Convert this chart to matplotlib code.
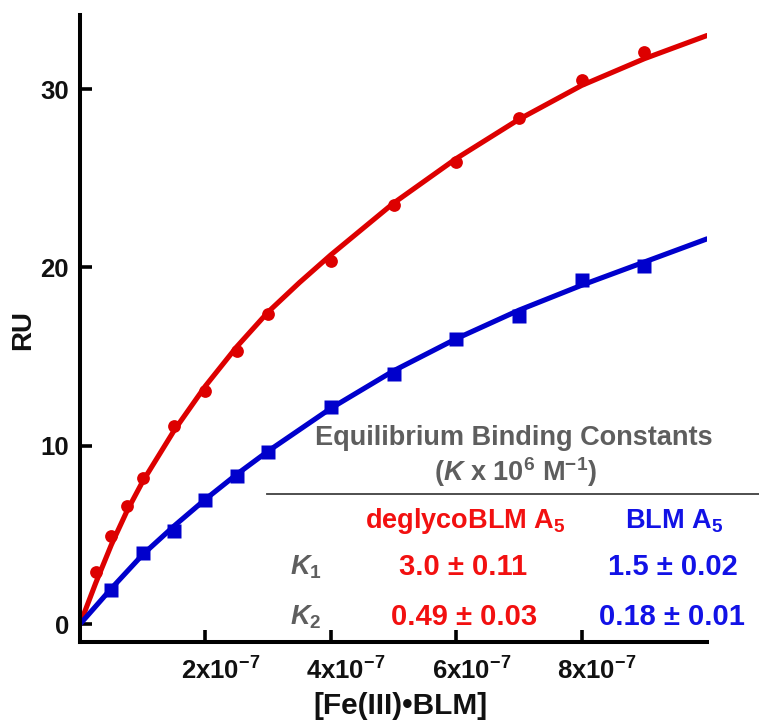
import matplotlib
matplotlib.use("Agg")
import matplotlib.pyplot as plt
import matplotlib.transforms as mtransforms
import numpy as np

plt.rcParams['font.family'] = ['Liberation Sans', 'DejaVu Sans']
plt.rcParams['mathtext.fontset'] = 'custom'
plt.rcParams['mathtext.rm'] = 'Liberation Sans:bold'
plt.rcParams['mathtext.it'] = 'Liberation Sans:italic:bold'
plt.rcParams['mathtext.bf'] = 'Liberation Sans:bold'
plt.rcParams['mathtext.default'] = 'regular'

# ---- data (concentration in units of 1e-7 M) ----
red_x = [0.25, 0.5, 0.75, 1.0, 1.5, 2.0, 2.5, 3.0, 4.0, 5.0, 6.0, 7.0, 8.0, 9.0]
red_y = [2.94, 4.96, 6.65, 8.2, 11.1, 13.05, 15.3, 17.4, 20.35, 23.5, 25.9, 28.35, 30.5, 32.1]
blue_x = [0.5, 1.0, 1.5, 2.0, 2.5, 3.0, 4.0, 5.0, 6.0, 7.0, 8.0, 9.0]
blue_y = [1.91, 4.0, 5.24, 6.97, 8.33, 9.66, 12.2, 14.0, 16.0, 17.3, 19.27, 20.1]

# fitted curves
red_fit_x = [0, 0.25, 0.5, 0.75, 1.0, 1.5, 2.0, 2.5, 3.0, 3.5, 4.0, 5.0, 6.0, 7.0, 8.0, 9.0, 10.0]
red_fit_y = [0, 2.3, 4.45, 6.35, 8.0, 10.85, 13.35, 15.55, 17.5, 19.15, 20.7, 23.6, 26.1, 28.3, 30.2, 31.7, 33.0]
blue_fit_x = [0, 0.5, 1.0, 1.5, 2.0, 2.5, 3.0, 4.0, 5.0, 6.0, 7.0, 8.0, 9.0, 10.0]
blue_fit_y = [0, 2.0, 3.9, 5.5, 7.0, 8.4, 9.7, 12.1, 14.2, 16.0, 17.6, 19.0, 20.3, 21.6]

xticks = [2e-7, 4e-7, 6e-7, 8e-7]
xtick_labels = ['2x10$^{-7}$', '4x10$^{-7}$', '6x10$^{-7}$', '8x10$^{-7}$']
yticks = [0, 10, 20, 30]

RED = '#dd0000'
BLUE = '#0000cc'
TRED = '#f21010'
TBLUE = '#1212e6'
GRAY = '#5e5e5e'

W, H = 759, 721
fig = plt.figure(figsize=(W / 100, H / 100), dpi=100)
ax = fig.add_axes([80 / W, 1 - 642 / H, (707 - 80) / W, (642 - 15) / H])

s = 1e-7
ax.plot(np.array(red_fit_x) * s, red_fit_y, color=RED, lw=3.7, solid_capstyle='round', zorder=2)
ax.plot(np.array(blue_fit_x) * s, blue_fit_y, color=BLUE, lw=3.7, solid_capstyle='round', zorder=2)
ax.plot(np.array(red_x) * s, red_y, 'o', color=RED, ms=9.2, mec='none', zorder=3)
ax.plot(np.array(blue_x) * s, blue_y, 's', color=BLUE, ms=9.6, mec='none', zorder=3)

ax.set_xlim(0, 1.0e-6)
ax.set_ylim(-1.0, 34.15)
for sp in ['top', 'right']:
    ax.spines[sp].set_visible(False)
for sp in ['left', 'bottom']:
    ax.spines[sp].set_linewidth(2.9)
ax.set_xticks(xticks)
ax.set_xticklabels(xtick_labels)
ax.set_yticks(yticks)
ax.tick_params(direction='in', length=8.6, width=2.6, labelsize=18.5, pad=8)
ax.tick_params(axis='x', pad=11)
shift = mtransforms.ScaledTranslation(15 / 100, 0, fig.dpi_scale_trans)
for lab in ax.get_xticklabels():
    lab.set_transform(lab.get_transform() + shift)
for lab in ax.get_xticklabels() + ax.get_yticklabels():
    lab.set_fontweight('bold')
    lab.set_color('#111111')

fig.text(23 / W, 1 - 330 / H, 'RU', rotation=90, ha='center', va='center',
         fontsize=20, fontweight='bold', color='#111111')
fig.text(400 / W, 1 - 706 / H, '[Fe(III)•BLM]', ha='center', va='center',
         fontsize=21.5, fontweight='bold', color='#111111')

# table of constants
def ftxt(x, y, t, color, size=19.5, ha='center'):
    fig.text(x / W, 1 - y / H, t, ha=ha, va='center', fontsize=size,
             fontweight='bold', color=color)

ftxt(514, 438, 'Equilibrium Binding Constants', GRAY)
ftxt(515, 472, '($\\mathit{K}$ x 10$^{6}$ M$^{-1}$)', GRAY)
fig.add_artist(plt.Line2D([267 / W, 1.0], [1 - 494 / H, 1 - 494 / H],
                          transform=fig.transFigure, color='#404040', lw=1.3))
ftxt(465, 521, 'deglycoBLM A$_{5}$', TRED)
ftxt(674, 521, 'BLM A$_{5}$', TBLUE)
ftxt(306, 567, '$\\mathit{K}_{1}$', GRAY)
ftxt(306, 617, '$\\mathit{K}_{2}$', GRAY)
ftxt(463, 567, '3.0 ± 0.11', TRED, size=21)
ftxt(464, 617, '0.49 ± 0.03', TRED, size=21)
ftxt(673, 567, '1.5 ± 0.02', TBLUE, size=21)
ftxt(672, 617, '0.18 ± 0.01', TBLUE, size=21)

fig.savefig('out.png', dpi=100)
